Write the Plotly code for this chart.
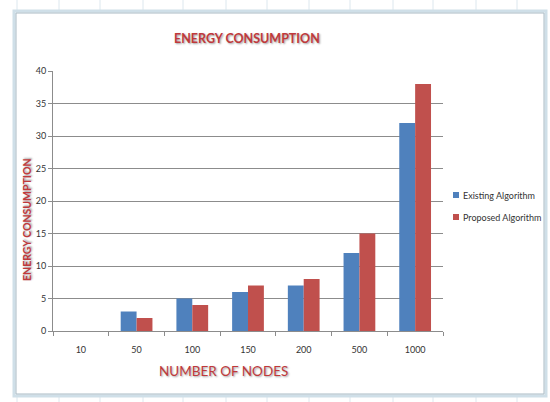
import plotly.graph_objects as go

# Energy consumption per network size
nodes = ["10", "50", "100", "150", "200", "500", "1000"]
existing = [0, 3, 5, 6, 7, 12, 32]
proposed = [0, 2, 4, 7, 8, 15, 38]
y_ticks = [0, 5, 10, 15, 20, 25, 30, 35, 40]
series_names = ["Existing Algorithm", "Proposed Algorithm"]

BLUE = "#4F81BD"
RED = "#C0504D"
TITLE_RED = "#C0393B"
FONT = "Lato, 'Open Sans', sans-serif"

# plot area in pixels
PX_L, PX_R, PX_T, PX_B = 53, 443, 71, 331
W, H = PX_R - PX_L, PX_B - PX_T


def px(x):
    return (x - PX_L) / W


def py(y):
    return (PX_B - y) / H


fig = go.Figure()
fig.add_trace(go.Bar(x=nodes, y=existing, name=series_names[0],
                     marker=dict(color=BLUE, line=dict(width=0))))
fig.add_trace(go.Bar(x=nodes, y=proposed, name=series_names[1],
                     marker=dict(color=RED, line=dict(width=0))))

fig.update_layout(
    width=550, height=402,
    margin=dict(l=PX_L, r=550 - PX_R, t=PX_T, b=402 - PX_B, autoexpand=False),
    paper_bgcolor="white", plot_bgcolor="white",
    barmode="group", bargap=0.43, bargroupgap=0,
    font=dict(family=FONT, size=9, color="#333333"),
    showlegend=False,
)

fig.update_xaxes(
    type="category", showline=True, linecolor="#8C8C8C", linewidth=1,
    ticks="outside", ticklen=4, tickcolor="#8C8C8C", tickson="boundaries",
    ticklabelstandoff=10, showgrid=False, mirror=False, automargin=False,
    tickfont=dict(size=9, color="#333333"),
)
fig.update_yaxes(
    range=[0, 40], tickvals=y_ticks, showline=True, linecolor="#8C8C8C",
    linewidth=1, ticks="outside", ticklen=4, tickcolor="#8C8C8C",
    showgrid=True, gridcolor="#8C8C8C", gridwidth=1, zeroline=False,
    automargin=False, tickfont=dict(size=9, color="#333333"),
)

# Legend: small colour keys with labels to the right of the plot
for name, color, yc in [(series_names[0], BLUE, 195), (series_names[1], RED, 217)]:
    fig.add_shape(type="rect", xref="paper", yref="paper",
                  x0=px(453), x1=px(459), y0=py(yc + 3), y1=py(yc - 3),
                  fillcolor=color, line=dict(width=0))
    fig.add_annotation(text=name, xref="paper", yref="paper",
                       x=px(461), y=py(yc), xanchor="left", yanchor="middle",
                       showarrow=False,
                       font=dict(family=FONT, size=9, color="#333333"))

title_font = dict(family=FONT, color=TITLE_RED, shadow="1px 1px 2px #9a9a9a")

fig.add_annotation(text="<b>ENERGY CONSUMPTION</b>", xref="paper", yref="paper",
                   x=px(247), y=py(38),
                   showarrow=False, xanchor="center", yanchor="middle",
                   font=dict(size=12.5, **title_font))
fig.add_annotation(text="NUMBER OF NODES", xref="paper", yref="paper",
                   x=px(223), y=py(371),
                   showarrow=False, xanchor="center", yanchor="middle",
                   font=dict(size=13.5, **title_font))
fig.add_annotation(text="<b>ENERGY CONSUMPTION</b>", xref="paper", yref="paper",
                   x=px(27), y=py(220), textangle=-90,
                   showarrow=False, xanchor="center", yanchor="middle",
                   font=dict(size=10.5, **title_font))

# Spreadsheet cell lines behind the chart object
for xc in [17, 59, 100, 143, 183, 226, 267, 309, 350, 393, 433, 476, 517]:
    fig.add_shape(type="line", xref="paper", yref="paper",
                  x0=px(xc), x1=px(xc), y0=py(0), y1=py(12),
                  line=dict(color="#DCE7EE", width=1), layer="below")
    fig.add_shape(type="line", xref="paper", yref="paper",
                  x0=px(xc), x1=px(xc), y0=py(396), y1=py(402),
                  line=dict(color="#DCE7EE", width=1), layer="below")

# Chart object frame
fig.add_shape(type="rect", xref="paper", yref="paper",
              x0=px(14), x1=px(546), y0=py(396), y1=py(11),
              line=dict(color="#CFDFE8", width=3), layer="below")
fig.add_shape(type="rect", xref="paper", yref="paper",
              x0=px(16), x1=px(544), y0=py(394), y1=py(13),
              line=dict(color="#A9BAC4", width=1), layer="below")

fig.write_html("out.html")
